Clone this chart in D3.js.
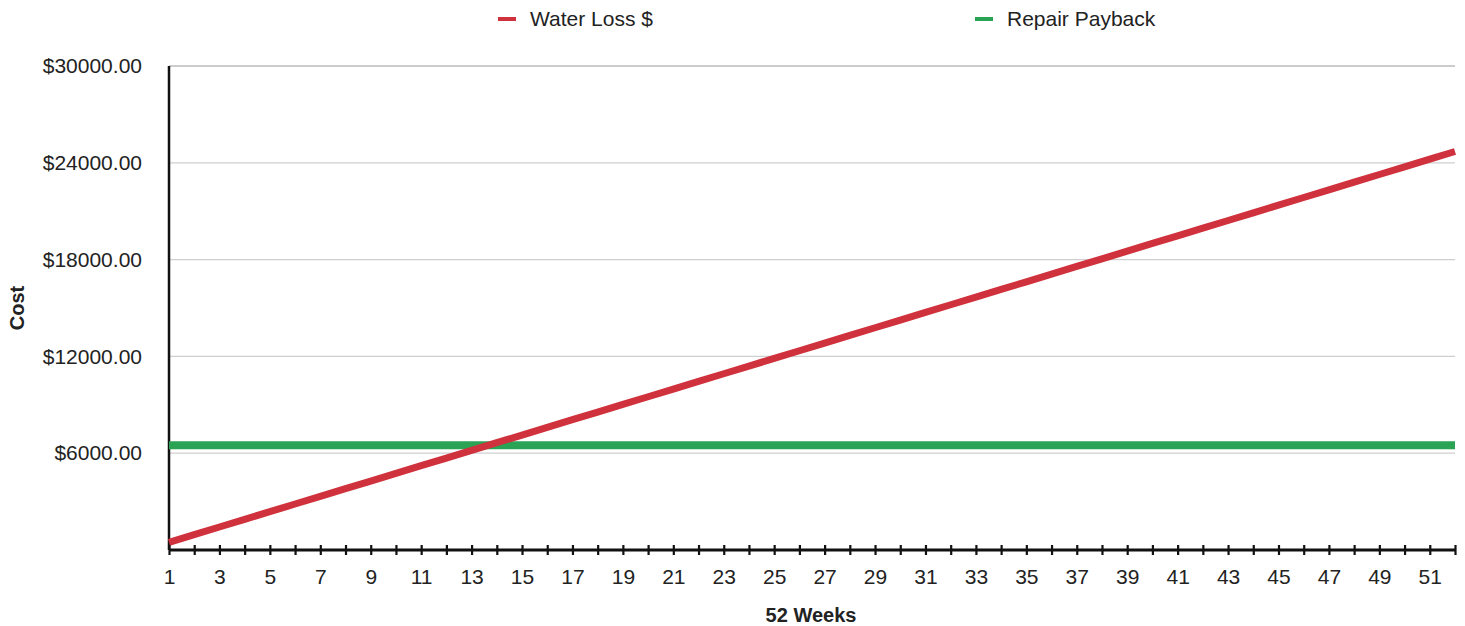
<!DOCTYPE html>
<html>
<head>
<meta charset="utf-8">
<script src="https://cdn.jsdelivr.net/npm/d3@7"></script>
<style>
  body { margin: 0; background: #fff; }
  text { font-family: "Liberation Sans", Arial, sans-serif; fill: #222; }
</style>
</head>
<body>
<div id="chart"></div>
<script>
// Weeks on the x axis
const weeks = [1, 2, 3, 4, 5, 6, 7, 8, 9, 10, 11, 12, 13, 14, 15, 16, 17, 18, 19, 20,
  21, 22, 23, 24, 25, 26, 27, 28, 29, 30, 31, 32, 33, 34, 35, 36, 37, 38, 39, 40,
  41, 42, 43, 44, 45, 46, 47, 48, 49, 50, 51, 52];

// Cumulative water loss in dollars
const waterLoss = [475, 950, 1425, 1900, 2375, 2850, 3325, 3800, 4275, 4750,
  5225, 5700, 6175, 6650, 7125, 7600, 8075, 8550, 9025, 9500,
  9975, 10450, 10925, 11400, 11875, 12350, 12825, 13300, 13775, 14250,
  14725, 15200, 15675, 16150, 16625, 17100, 17575, 18050, 18525, 19000,
  19475, 19950, 20425, 20900, 21375, 21850, 22325, 22800, 23275, 23750,
  24225, 24700];

// Cost of the repair (flat)
const repairPayback = [6500, 6500, 6500, 6500, 6500, 6500, 6500, 6500, 6500, 6500,
  6500, 6500, 6500, 6500, 6500, 6500, 6500, 6500, 6500, 6500,
  6500, 6500, 6500, 6500, 6500, 6500, 6500, 6500, 6500, 6500,
  6500, 6500, 6500, 6500, 6500, 6500, 6500, 6500, 6500, 6500,
  6500, 6500, 6500, 6500, 6500, 6500, 6500, 6500, 6500, 6500,
  6500, 6500];

const yTicks = [6000, 12000, 18000, 24000, 30000];
const seriesNames = ["Water Loss $", "Repair Payback"];
const seriesColors = ["#d0323d", "#2ba354"];

const width = 1465;
const height = 626;
const plotLeft = 169, plotRight = 1455, plotTop = 66, plotBottom = 550;

const svg = d3.select("#chart").append("svg")
  .attr("width", width)
  .attr("height", height);

const x = d3.scaleLinear().domain([1, 52]).range([plotLeft, plotRight]);
const y = d3.scaleLinear().domain([0, 30000]).range([plotBottom, plotTop]);

// Gridlines
svg.append("g")
  .selectAll("line")
  .data(yTicks)
  .enter()
  .append("line")
  .attr("x1", plotLeft)
  .attr("x2", plotRight)
  .attr("y1", d => y(d))
  .attr("y2", d => y(d))
  .attr("stroke", d => d === 30000 ? "#9a9a9a" : "#cfcfcf")
  .attr("stroke-width", 1.2);

// Y axis labels
const yAxis = svg.append("g")
  .attr("transform", `translate(${plotLeft},0)`)
  .call(d3.axisLeft(y).tickValues(yTicks).tickSize(0).tickPadding(27)
    .tickFormat(d => "$" + d3.format(".2f")(d)));
yAxis.select(".domain").remove();
yAxis.selectAll("text").style("font-size", "21px").attr("fill", "#222");

// Y axis line
svg.append("line")
  .attr("x1", plotLeft).attr("x2", plotLeft)
  .attr("y1", plotTop).attr("y2", plotBottom)
  .attr("stroke", "#111")
  .attr("stroke-width", 2.5);

// Lines (repair payback under water loss)
const line = d3.line()
  .x((d, i) => x(weeks[i]))
  .y(d => y(d));

svg.append("path")
  .datum(repairPayback)
  .attr("d", line)
  .attr("fill", "none")
  .attr("stroke", seriesColors[1])
  .attr("stroke-width", 8);

svg.append("path")
  .datum(waterLoss)
  .attr("d", line)
  .attr("fill", "none")
  .attr("stroke", seriesColors[0])
  .attr("stroke-width", 7);

// X axis
const xAxis = svg.append("g")
  .attr("transform", `translate(0,${plotBottom})`)
  .call(d3.axisBottom(x).tickValues(weeks).tickSize(5).tickPadding(14)
    .tickFormat(d => d % 2 === 1 ? d : ""));
xAxis.select(".domain")
  .attr("d", `M${plotLeft},0H${plotRight}`)
  .attr("stroke", "#111")
  .attr("stroke-width", 3);
xAxis.selectAll(".tick line")
  .attr("y1", -5)
  .attr("y2", 5)
  .attr("stroke", "#111")
  .attr("stroke-width", 2.2);
xAxis.selectAll("text").style("font-size", "21px").attr("fill", "#222");

// Axis titles
svg.append("text")
  .attr("x", 811)
  .attr("y", 622)
  .attr("text-anchor", "middle")
  .style("font-size", "20px")
  .style("font-weight", "bold")
  .text("52 Weeks");

svg.append("text")
  .attr("transform", "translate(24,308) rotate(-90)")
  .attr("text-anchor", "middle")
  .style("font-size", "20px")
  .style("font-weight", "bold")
  .text("Cost");

// Legend
const legendX = [498, 975];
const legend = svg.append("g");
const items = legend.selectAll("g")
  .data(seriesNames)
  .enter()
  .append("g")
  .attr("transform", (d, i) => `translate(${legendX[i]},19)`);

items.append("line")
  .attr("x1", 0).attr("x2", 18)
  .attr("y1", 0).attr("y2", 0)
  .attr("stroke", (d, i) => seriesColors[i])
  .attr("stroke-width", 4);

items.append("text")
  .attr("x", 32)
  .attr("y", 7)
  .style("font-size", "21px")
  .text(d => d);
</script>
</body>
</html>
